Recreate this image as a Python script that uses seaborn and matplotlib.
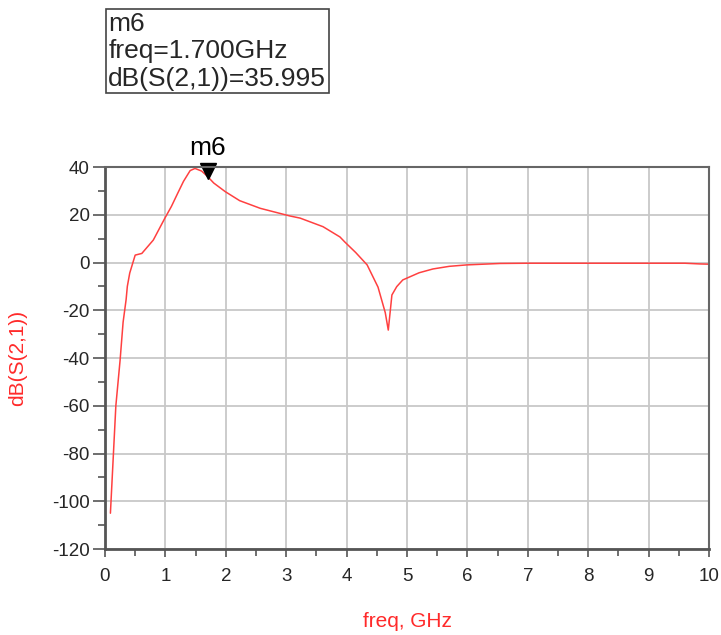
import matplotlib
matplotlib.use("Agg")
import matplotlib.pyplot as plt
import matplotlib.transforms as mtransforms
from matplotlib.ticker import MultipleLocator
import seaborn as sns
import pandas as pd

# dB(S(2,1)) trace
freq = [0.09, 0.14, 0.18, 0.25, 0.3, 0.35, 0.37, 0.41, 0.5, 0.61, 0.8,
        0.99, 1.1, 1.2, 1.3, 1.41, 1.49, 1.6, 1.7, 1.8, 1.99, 2.23, 2.57,
        3.06, 3.23, 3.61, 3.89, 3.97, 4.15, 4.34, 4.52, 4.64, 4.69, 4.72, 4.75,
        4.83, 4.93, 5.2, 5.43, 5.7, 5.99, 6.54, 7.0, 8.0, 9.0, 9.6, 9.85, 10.0]
s21_db = [-105, -80, -60, -41, -25, -15.5, -10, -4.4, 3.1, 3.8, 9.4,
          18.5, 23.5, 28.8, 34, 38.5, 39.4, 38.3, 36.0, 33.3, 29.7, 25.9, 22.7,
          19.5, 18.6, 15.0, 10.7, 8.6, 4.2, -1, -10.3, -21, -28.3, -21, -13.6,
          -10.1, -7.3, -4.3, -2.7, -1.6, -1.0, -0.4, -0.3, -0.3, -0.3, -0.3, -0.6, -0.7]

marker_name = "m6"
marker_freq = 1.700
marker_val = 35.995

df = pd.DataFrame({"freq": freq, "s21": s21_db})

sns.set_style("white")
plt.rcParams["font.family"] = ["Liberation Sans", "DejaVu Sans"]
plt.rcParams["axes.unicode_minus"] = False

fig = plt.figure(figsize=(7.21, 6.35), dpi=100)
ax = fig.add_axes([0.1456, 0.1354, 0.8378, 0.6016])

sns.lineplot(data=df, x="freq", y="s21", ax=ax, color="#FF4040", linewidth=1.1)

ax.set_xlim(0, 10)
ax.set_ylim(-120, 40)
ax.xaxis.set_major_locator(MultipleLocator(1))
ax.xaxis.set_minor_locator(MultipleLocator(0.5))
ax.yaxis.set_major_locator(MultipleLocator(20))
ax.yaxis.set_minor_locator(MultipleLocator(10))
ax.grid(True, which="major", color="#C8C8C8", linewidth=1.3)
ax.set_axisbelow(True)

for side in ["left", "bottom"]:
    ax.spines[side].set_color("#555555")
    ax.spines[side].set_linewidth(2)
for side in ["top", "right"]:
    ax.spines[side].set_color("#666666")
    ax.spines[side].set_linewidth(1.5)

ax.tick_params(axis="y", which="major", direction="out", length=9, width=1.2,
               color="#555555", labelsize=13.5, pad=2, left=True)
ax.tick_params(axis="y", which="minor", direction="out", length=5, width=1.2,
               color="#555555", left=True)
ax.tick_params(axis="x", which="major", direction="out", length=6, width=1.2,
               color="#555555", labelsize=13.5, pad=8, bottom=True)
ax.tick_params(axis="x", which="minor", direction="out", length=5, width=1.2,
               color="#555555", bottom=True)

ax.set_xlabel("freq, GHz", color="#FF2A2A", fontsize=15, labelpad=19)
ax.set_ylabel("dB(S(2,1))", color="#FF2A2A", fontsize=15, labelpad=18)

# marker triangle sitting just above the trace
tri = mtransforms.offset_copy(ax.transData, fig=fig, x=0, y=4, units="points")
ax.plot([marker_freq], [marker_val], marker="v", color="black", markersize=11,
        transform=tri, clip_on=False, linestyle="none")
lbl = mtransforms.offset_copy(ax.transData, fig=fig, x=0, y=12, units="points")
ax.text(marker_freq, marker_val, marker_name, transform=lbl, ha="center",
        va="bottom", fontsize=19, color="black")

readout = f"{marker_name}\nfreq={marker_freq:.3f}GHz\ndB(S(2,1))={marker_val:.3f}"
fig.text(0.150, 0.857, readout, fontsize=19, ha="left", va="bottom",
         linespacing=1.18,
         bbox=dict(boxstyle="square,pad=0.1", facecolor="white",
                   edgecolor="#444444", linewidth=1.2))

fig.savefig("out.png", dpi=100)
